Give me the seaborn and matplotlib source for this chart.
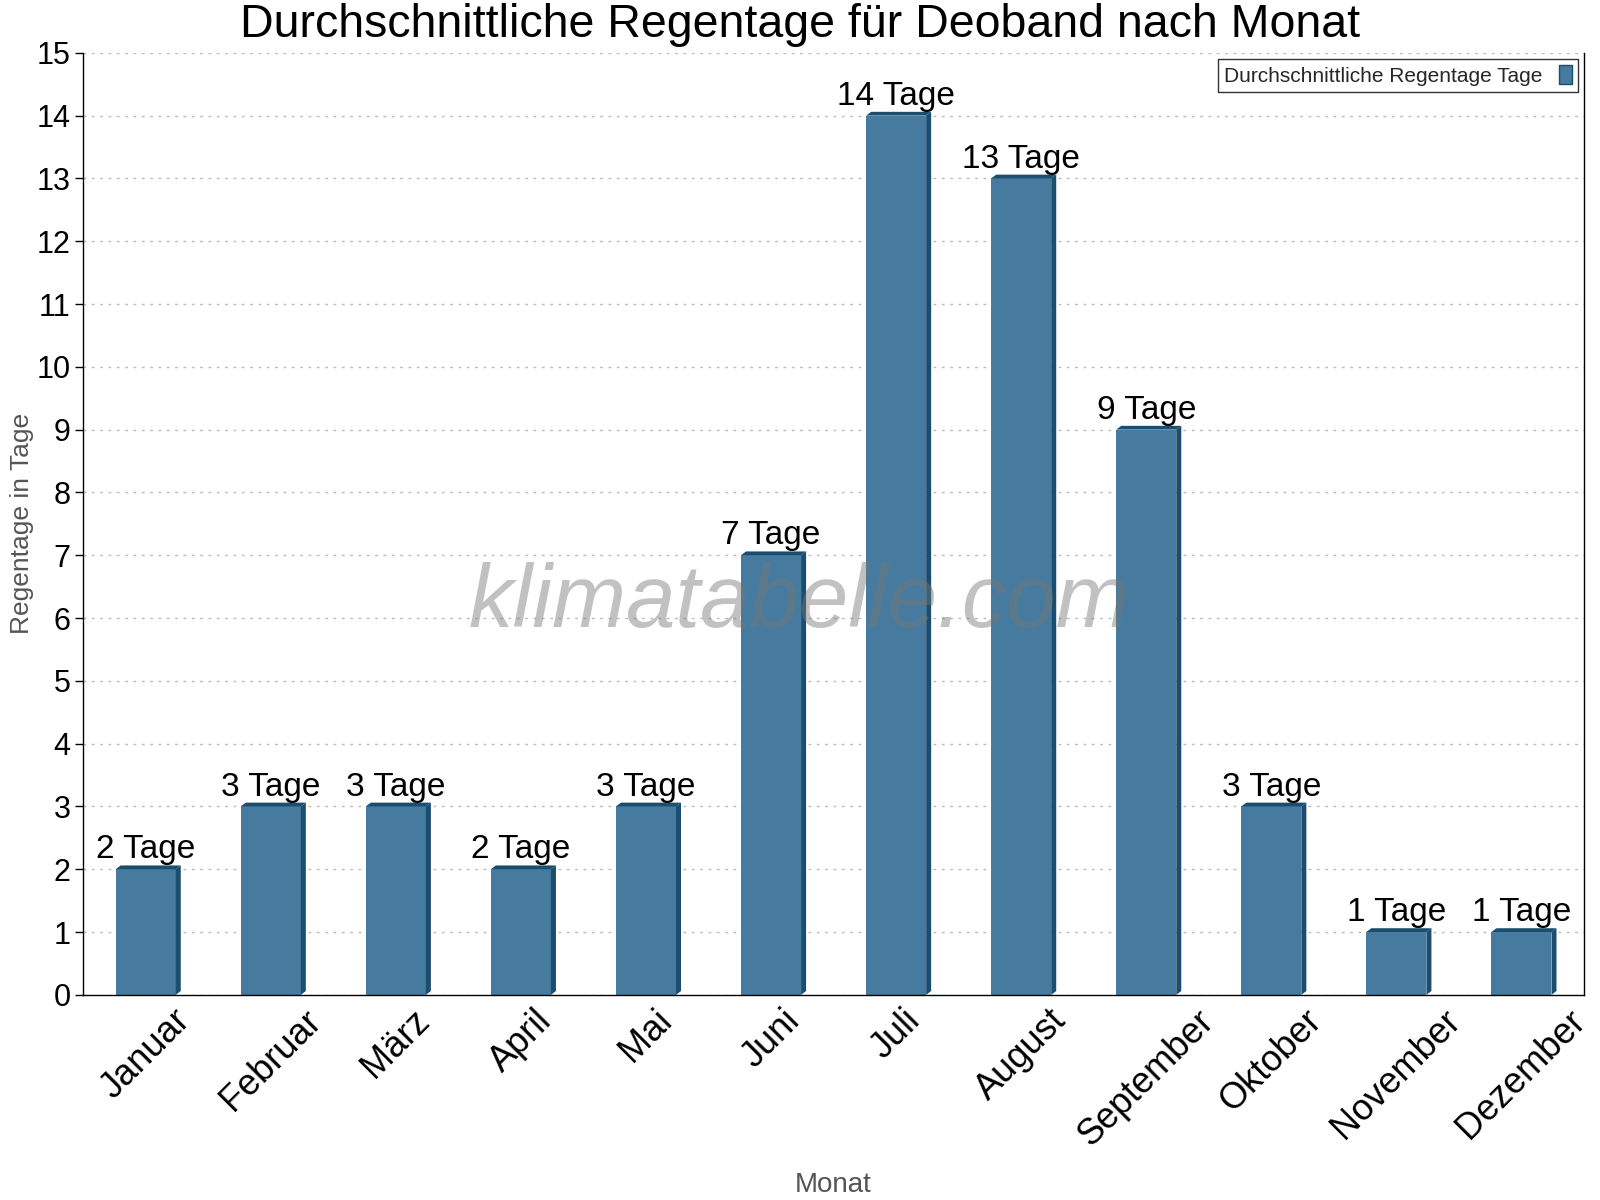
import matplotlib
matplotlib.use("Agg")
import matplotlib.pyplot as plt
import seaborn as sns
import pandas as pd
import numpy as np
from matplotlib.patches import Polygon

months = ["Januar", "Februar", "März", "April", "Mai", "Juni", "Juli",
          "August", "September", "Oktober", "November", "Dezember"]
rain_days = [2, 3, 3, 2, 3, 7, 14, 13, 9, 3, 1, 1]
yticks = list(range(0, 16))

title = "Durchschnittliche Regentage für Deoband nach Monat"
ylabel = "Regentage in Tage"
xlabel = "Monat"
legend_label = "Durchschnittliche Regentage Tage"
unit = "Tage"

face = "#467b9f"
dark = "#1a4d6e"

sns.set_theme(style="white")
plt.rcParams['font.family'] = ['Liberation Sans', 'DejaVu Sans']

df = pd.DataFrame({"Monat": months, "Tage": rain_days})

fig = plt.figure(figsize=(16, 12), dpi=100)
ax = fig.add_axes([0.052, 0.171, 0.938, 0.785])

sns.barplot(data=df, x="Monat", y="Tage", color=face, width=0.48,
            saturation=1, ax=ax, edgecolor="none", label=legend_label)

# 3D side and top bevel
for p in ax.patches:
    x0 = p.get_x(); w = p.get_width(); h = p.get_height()
    dx = 0.04; dy = 0.06
    side = Polygon([(x0 + w, 0), (x0 + w + dx, dy), (x0 + w + dx, h + dy),
                    (x0 + w, h)], closed=True, facecolor=dark, edgecolor="none", zorder=3)
    top = Polygon([(x0, h), (x0 + dx, h + dy), (x0 + w + dx, h + dy),
                   (x0 + w, h)], closed=True, facecolor=dark, edgecolor="none", zorder=3)
    ax.add_patch(side); ax.add_patch(top)

for i, v in enumerate(rain_days):
    ax.text(i, v + 0.06, f"{v} {unit}", ha="center", va="bottom", fontsize=24, color="black", zorder=5)

ax.set_ylim(0, 15)
ax.set_xlim(-0.5, len(months) - 0.5)
ax.set_yticks(yticks)
ax.set_yticklabels([str(t) for t in yticks], fontsize=22, color="black")
ax.yaxis.grid(True, linestyle=(0, (2, 4)), color="#bbbbbb", linewidth=1)
ax.set_axisbelow(True)

ax.set_xticks(range(len(months)))
ax.set_xticklabels(months, rotation=45, ha="center", va="top", fontsize=26, color="black")
ax.tick_params(axis="x", which="major", length=0, pad=6)
ax.set_xticks(np.arange(-0.5, len(months), 1.0), minor=True)
ax.tick_params(axis="x", which="minor", length=10, direction="inout", width=1, color="black")
ax.tick_params(axis="y", which="major", length=6, direction="out", width=1, color="black", left=True, pad=3)

for s in ["left", "bottom", "right"]:
    ax.spines[s].set_visible(True)
    ax.spines[s].set_color("black")
    ax.spines[s].set_linewidth(1)
ax.spines["top"].set_visible(False)

ax.set_ylabel(ylabel, fontsize=19, color="#555555", labelpad=2)
ax.set_xlabel(xlabel, fontsize=20, color="#555555", labelpad=14)
fig.text(0.5, 0.979, title, ha="center", va="center", fontsize=33.5, color="black")

ax.text(0.477, 0.415, "klimatabelle.com", transform=ax.transAxes, ha="center", va="center",
        fontsize=64, style="italic", color="#777777", alpha=0.45, zorder=6)

leg = ax.legend(loc="upper right", fontsize=15, frameon=True, fancybox=False,
                markerfirst=False, handlelength=0.6, handleheight=1.0,
                borderaxespad=0.3, borderpad=0.3)
leg.get_frame().set_edgecolor("black")
leg.get_frame().set_linewidth(1)
for h in leg.legend_handles:
    h.set_edgecolor(dark)

fig.savefig("out.png", dpi=100)
